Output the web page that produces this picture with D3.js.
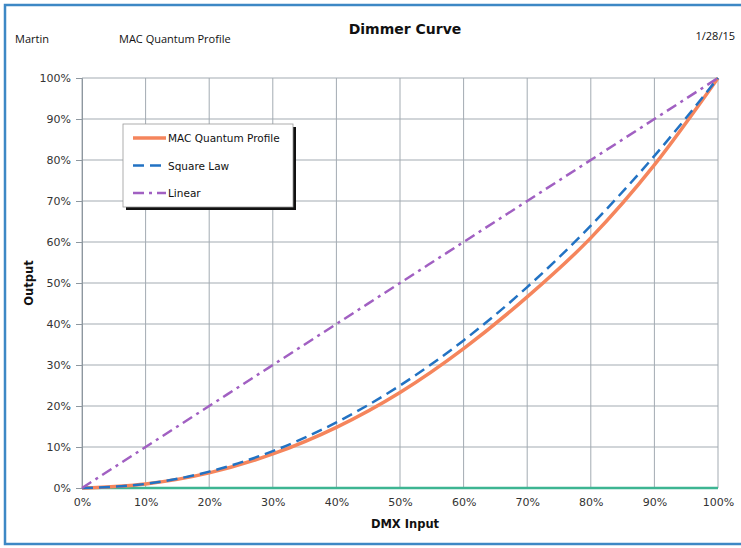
<!DOCTYPE html>
<html>
<head>
<meta charset="utf-8">
<script src="https://cdn.jsdelivr.net/npm/d3@7"></script>
<style>
  html, body { margin: 0; padding: 0; background: #fff; }
  svg { display: block; }
</style>
</head>
<body>
<svg id="chart" width="741" height="548"></svg>
<script>
// ---- data ----
const dmxInput = [0, 10, 20, 30, 40, 50, 60, 70, 80, 90, 100];
const macQuantumProfile = [0, 1.0, 3.7, 8.3, 14.8, 23.3, 34.0, 46.6, 61.0, 78.8, 100];
const squareLaw = [0, 1, 4, 9, 16, 25, 36, 49, 64, 81, 100];
const linear = [0, 10, 20, 30, 40, 50, 60, 70, 80, 90, 100];
const zeroLine = [0, 0, 0, 0, 0, 0, 0, 0, 0, 0, 0];
const xTicks = [0, 10, 20, 30, 40, 50, 60, 70, 80, 90, 100];
const yTicks = [0, 10, 20, 30, 40, 50, 60, 70, 80, 90, 100];
const seriesNames = ["MAC Quantum Profile", "Square Law", "Linear"];

const svg = d3.select("#chart");
const W = 741, H = 548;
const m = { left: 82, right: 23, top: 78, bottom: 60 };
const x = d3.scaleLinear().domain([0, 100]).range([m.left, W - m.right]);
const y = d3.scaleLinear().domain([0, 100]).range([H - m.bottom, m.top]);

// frame
svg.append("rect").attr("x", 5).attr("y", 5).attr("width", 745).attr("height", 539)
  .attr("fill", "none").attr("stroke", "#3d88c5").attr("stroke-width", 2.5);

// header texts
const hdrFont = "'Open Sans', 'Noto Sans', sans-serif";
svg.append("text").attr("x", 15).attr("y", 43).attr("font-family", hdrFont)
  .attr("font-size", 11).attr("fill", "#111").text("Martin");
svg.append("text").attr("x", 119).attr("y", 43).attr("font-family", hdrFont)
  .attr("font-size", 11).attr("fill", "#111").text("MAC Quantum Profile");
svg.append("text").attr("x", 735).attr("y", 40).attr("text-anchor", "end").attr("font-family", hdrFont)
  .attr("font-size", 11).attr("fill", "#111").text("1/28/15");
svg.append("text").attr("x", 405).attr("y", 34).attr("text-anchor", "middle")
  .attr("font-family", "'DejaVu Sans', sans-serif").attr("font-weight", "bold")
  .attr("font-size", 14).attr("fill", "#111").text("Dimmer Curve");

// gridlines
const grid = svg.append("g").attr("stroke", "#a3abb2").attr("stroke-width", 1);
grid.selectAll("line.v").data(xTicks).join("line")
  .attr("x1", d => x(d)).attr("x2", d => x(d)).attr("y1", y(0)).attr("y2", y(100));
grid.selectAll("line.h").data(yTicks).join("line")
  .attr("y1", d => y(d)).attr("y2", d => y(d)).attr("x1", x(0)).attr("x2", x(100));

// axes
const fmt = d => d + "%";
const yAxis = d3.axisLeft(y).tickValues(yTicks).tickFormat(fmt).tickSize(6).tickPadding(5);
const xAxis = d3.axisBottom(x).tickValues(xTicks).tickFormat(fmt).tickSize(0).tickPadding(10);
const gy = svg.append("g").attr("transform", `translate(${m.left},0)`).call(yAxis);
const gx = svg.append("g").attr("transform", `translate(0,${H - m.bottom})`).call(xAxis);
[gx, gy].forEach(g => {
  g.select(".domain").attr("stroke", "#8e979f");
  g.selectAll(".tick line").attr("stroke", "#8e979f");
  g.selectAll("text").attr("font-family", "'DejaVu Sans', sans-serif")
    .attr("font-size", 11).attr("fill", "#333");
});
gx.select(".domain").remove();

// axis titles
svg.append("text").attr("x", 405).attr("y", 528).attr("text-anchor", "middle")
  .attr("font-family", "'DejaVu Sans', sans-serif").attr("font-weight", "bold")
  .attr("font-size", 11.5).attr("fill", "#111").text("DMX Input");
svg.append("text").attr("transform", `translate(33,${(y(0) + y(100)) / 2}) rotate(-90)`)
  .attr("text-anchor", "middle")
  .attr("font-family", "'DejaVu Sans', sans-serif").attr("font-weight", "bold")
  .attr("font-size", 11.5).attr("fill", "#111").text("Output");

// lines
const mk = vals => d3.line().x((d, i) => x(dmxInput[i])).y(d => y(d)).curve(d3.curveMonotoneX)(vals);
svg.append("path").attr("d", mk(zeroLine)).attr("fill", "none")
  .attr("stroke", "#3db592").attr("stroke-width", 2.5);
svg.append("path").attr("d", mk(macQuantumProfile)).attr("fill", "none")
  .attr("stroke", "#f5855c").attr("stroke-width", 3.5);
svg.append("path").attr("d", mk(squareLaw)).attr("fill", "none")
  .attr("stroke", "#2272c3").attr("stroke-width", 2.5).attr("stroke-dasharray", "11,6");
svg.append("path").attr("d", mk(linear)).attr("fill", "none")
  .attr("stroke", "#a160c2").attr("stroke-width", 2.5).attr("stroke-dasharray", "11,5,3,5");

// legend
const lg = svg.append("g");
lg.append("rect").attr("x", 126).attr("y", 127).attr("width", 170).attr("height", 83).attr("fill", "#111");
lg.append("rect").attr("x", 123).attr("y", 124).attr("width", 170).attr("height", 83)
  .attr("fill", "#fff").attr("stroke", "#999").attr("stroke-width", 0.8);
const styles = [
  { c: "#f5855c", w: 3.5, dash: null },
  { c: "#2272c3", w: 2.5, dash: "11,6" },
  { c: "#a160c2", w: 2.5, dash: "11,5,3,5" }
];
seriesNames.forEach((name, i) => {
  const yy = 138 + i * 27.5;
  lg.append("line").attr("x1", 133).attr("x2", 166).attr("y1", yy).attr("y2", yy)
    .attr("stroke", styles[i].c).attr("stroke-width", styles[i].w)
    .attr("stroke-dasharray", styles[i].dash);
  lg.append("text").attr("x", 168).attr("y", yy + 4)
    .attr("font-family", "'DejaVu Sans', sans-serif").attr("font-size", 10.5)
    .attr("fill", "#111").text(name);
});
</script>
</body>
</html>
